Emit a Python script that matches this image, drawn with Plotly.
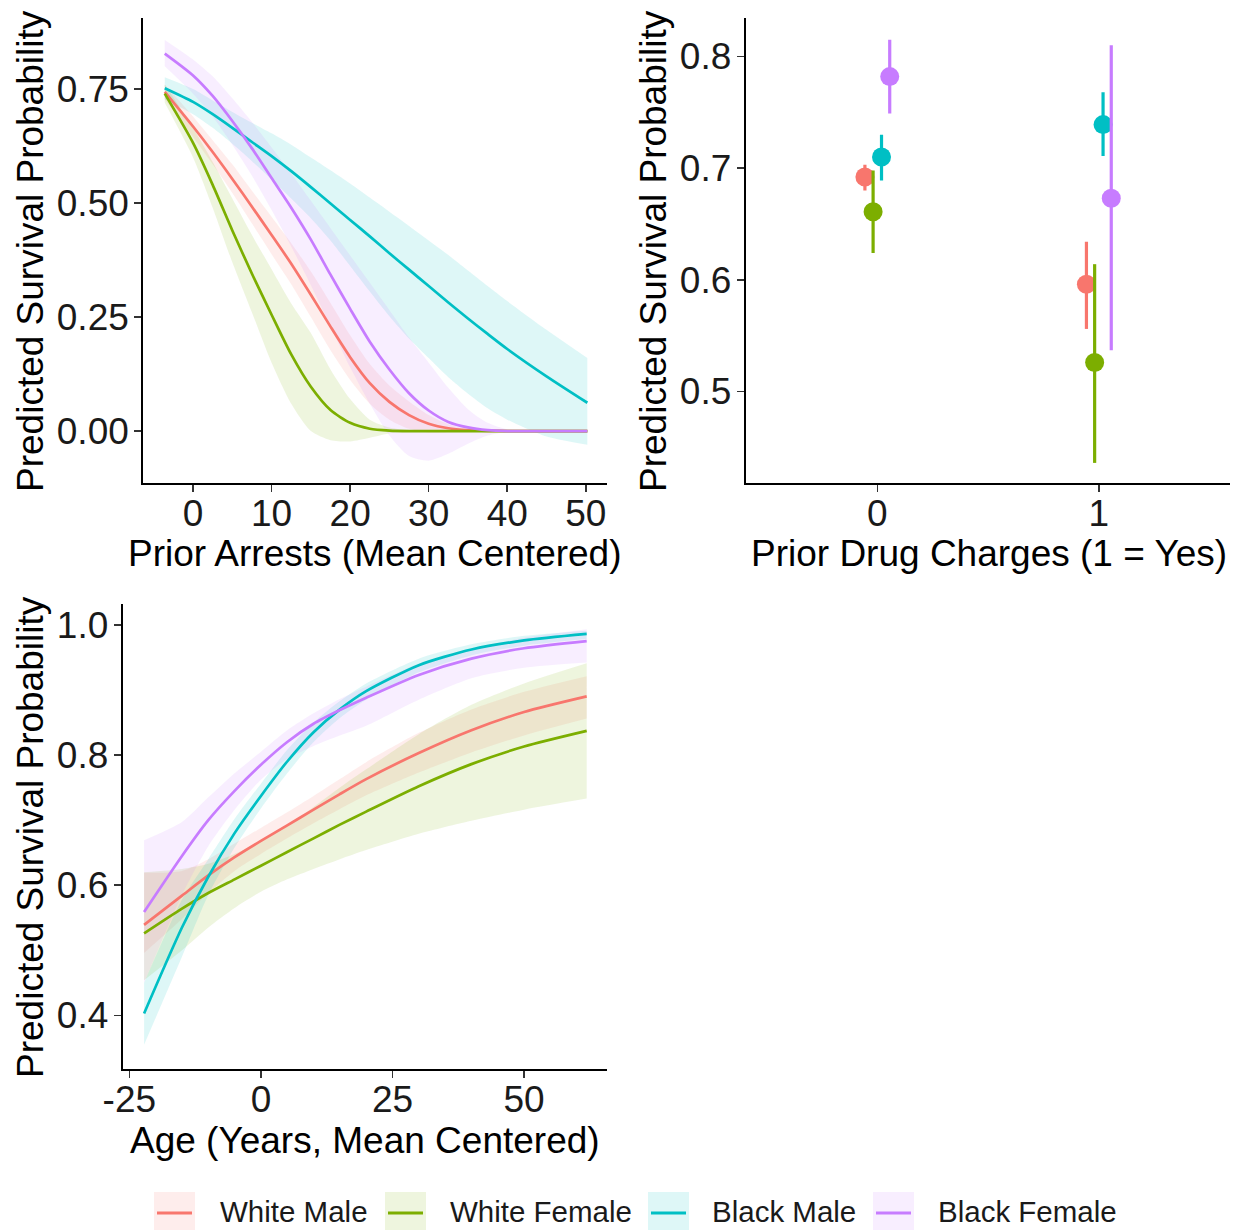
import plotly.graph_objects as go

W, H = 1239, 1230

# ---------------- data ----------------
groups = ["White Male", "White Female", "Black Male", "Black Female"]
colors = ["#F8766D", "#7CAE00", "#00BFC4", "#C77CFF"]

# Panel 1: Prior arrests (mean centered)
arrests_x = [-3.6, 0, 2.5, 5, 7.5, 10, 12.5, 15, 17.5, 20, 22.5, 25, 27.5, 30,
             32.5, 35, 37.5, 40, 45, 50.2]
arrests_fit = {
    "White Male":   [0.744, 0.668, 0.612, 0.553, 0.492, 0.430, 0.367, 0.299, 0.229, 0.162,
                     0.105, 0.064, 0.035, 0.016, 0.006, 0.002, 0.0005, 0.0, 0.0, 0.0],
    "White Female": [0.740, 0.632, 0.540, 0.440, 0.345, 0.255, 0.168, 0.097, 0.046, 0.018,
                     0.005, 0.001, 0.0, 0.0, 0.0, 0.0, 0.0, 0.0, 0.0, 0.0],
    "Black Male":   [0.752, 0.722, 0.695, 0.665, 0.634, 0.603, 0.570, 0.535, 0.499, 0.463,
                     0.427, 0.390, 0.354, 0.318, 0.282, 0.247, 0.213, 0.180, 0.120, 0.062],
    "Black Female": [0.828, 0.780, 0.735, 0.680, 0.620, 0.555, 0.490, 0.420, 0.343, 0.268,
                     0.196, 0.135, 0.083, 0.045, 0.020, 0.008, 0.002, 0.0, 0.0, 0.0],
}
arrests_lo = {
    "White Male":   [0.728, 0.645, 0.585, 0.522, 0.455, 0.388, 0.322, 0.250, 0.177, 0.112,
                     0.060, 0.025, 0.005, -0.003, -0.002, 0.0, 0.0, 0.0, 0.0, 0.0],
    "White Female": [0.720, 0.600, 0.490, 0.370, 0.260, 0.150, 0.060, 0.000, -0.020, -0.023,
                     -0.015, -0.005, 0.0, 0.0, 0.0, 0.0, 0.0, 0.0, 0.0, 0.0],
    "Black Male":   [0.728, 0.695, 0.665, 0.630, 0.592, 0.552, 0.510, 0.467, 0.418, 0.362,
                     0.306, 0.252, 0.203, 0.160, 0.118, 0.082, 0.050, 0.025, -0.012, -0.030],
    "Black Female": [0.800, 0.740, 0.690, 0.628, 0.560, 0.485, 0.405, 0.320, 0.230, 0.140,
                     0.060, -0.010, -0.055, -0.065, -0.050, -0.028, -0.010, -0.002, 0.0, 0.0],
}
arrests_hi = {
    "White Male":   [0.760, 0.690, 0.638, 0.585, 0.527, 0.470, 0.412, 0.350, 0.281, 0.210,
                     0.147, 0.100, 0.065, 0.035, 0.015, 0.004, 0.001, 0.0, 0.0, 0.0],
    "White Female": [0.760, 0.665, 0.590, 0.510, 0.430, 0.355, 0.280, 0.215, 0.135, 0.070,
                     0.025, 0.008, 0.002, 0.0, 0.0, 0.0, 0.0, 0.0, 0.0, 0.0],
    "Black Male":   [0.776, 0.750, 0.725, 0.700, 0.676, 0.653, 0.628, 0.600, 0.572, 0.543,
                     0.512, 0.481, 0.450, 0.418, 0.386, 0.352, 0.318, 0.285, 0.222, 0.160],
    "Black Female": [0.858, 0.815, 0.778, 0.730, 0.678, 0.622, 0.565, 0.505, 0.445, 0.385,
                     0.325, 0.265, 0.205, 0.150, 0.095, 0.048, 0.018, 0.004, 0.0, 0.0],
}

# Panel 2: Prior drug charges
drug_cats = [0, 1]
drug_fit = {
    "White Male":   [0.692, 0.596],
    "White Female": [0.661, 0.526],
    "Black Male":   [0.710, 0.739],
    "Black Female": [0.782, 0.673],
}
drug_lo = {
    "White Male":   [0.680, 0.556],
    "White Female": [0.624, 0.436],
    "Black Male":   [0.689, 0.711],
    "Black Female": [0.749, 0.537],
}
drug_hi = {
    "White Male":   [0.703, 0.634],
    "White Female": [0.698, 0.614],
    "Black Male":   [0.730, 0.768],
    "Black Female": [0.815, 0.810],
}

# Panel 3: Age (years, mean centered)
age_x = [-22.2, -15, -10, -5, 0, 5, 10, 15, 20, 30, 40, 50, 61.9]
age_fit = {
    "White Male":   [0.539, 0.584, 0.615, 0.643, 0.668, 0.692, 0.716, 0.740, 0.763, 0.803, 0.838, 0.866, 0.890],
    "White Female": [0.526, 0.564, 0.588, 0.609, 0.630, 0.651, 0.672, 0.693, 0.713, 0.752, 0.786, 0.813, 0.837],
    "Black Male":   [0.403, 0.535, 0.613, 0.680, 0.737, 0.790, 0.835, 0.870, 0.898, 0.938, 0.962, 0.976, 0.986],
    "Black Female": [0.559, 0.645, 0.700, 0.745, 0.785, 0.820, 0.848, 0.869, 0.888, 0.923, 0.948, 0.964, 0.975],
}
age_lo = {
    "White Male":   [0.496, 0.548, 0.588, 0.622, 0.648, 0.672, 0.695, 0.717, 0.738, 0.773, 0.804, 0.830, 0.856],
    "White Female": [0.454, 0.500, 0.535, 0.565, 0.590, 0.609, 0.625, 0.640, 0.654, 0.679, 0.699, 0.716, 0.733],
    "Black Male":   [0.355, 0.490, 0.585, 0.658, 0.718, 0.772, 0.820, 0.857, 0.885, 0.927, 0.953, 0.968, 0.978],
    "Black Female": [0.450, 0.585, 0.660, 0.716, 0.762, 0.794, 0.814, 0.830, 0.845, 0.885, 0.918, 0.934, 0.942],
}
age_hi = {
    "White Male":   [0.619, 0.622, 0.640, 0.664, 0.688, 0.712, 0.737, 0.763, 0.789, 0.834, 0.870, 0.897, 0.921],
    "White Female": [0.620, 0.625, 0.633, 0.648, 0.668, 0.692, 0.720, 0.750, 0.778, 0.832, 0.877, 0.910, 0.941],
    "Black Male":   [0.450, 0.578, 0.640, 0.702, 0.756, 0.808, 0.850, 0.883, 0.910, 0.948, 0.970, 0.983, 0.991],
    "Black Female": [0.669, 0.697, 0.735, 0.772, 0.805, 0.838, 0.864, 0.886, 0.905, 0.940, 0.963, 0.980, 0.993],
}

# ---------------- style helpers ----------------
FONT = "Liberation Sans, Arial, Helvetica, sans-serif"
TXT = "#1a1a1a"
FS = 37
RIB_ALPHA = 0.13
DODGE = [-0.056, -0.019, 0.019, 0.056]


def rgba(hex_color, a):
    h = hex_color.lstrip("#")
    r, g, b = int(h[0:2], 16), int(h[2:4], 16), int(h[4:6], 16)
    return f"rgba({r},{g},{b},{a})"


def px(x):
    """page pixel x -> paper fraction"""
    return x / W


def py(y):
    """page pixel y -> paper fraction"""
    return 1 - y / H


fig = go.Figure()
SPL = dict(shape="spline", smoothing=0.7)


def add_ribbons_and_lines(xs, fit, lo, hi, xa, ya):
    for g, c in zip(groups, colors):
        fig.add_trace(go.Scatter(x=xs, y=lo[g], mode="lines", xaxis=xa, yaxis=ya,
                                 line=dict(width=0, **SPL),
                                 showlegend=False, hoverinfo="skip"))
        fig.add_trace(go.Scatter(x=xs, y=hi[g], mode="lines", xaxis=xa, yaxis=ya,
                                 line=dict(width=0, **SPL),
                                 fill="tonexty", fillcolor=rgba(c, RIB_ALPHA),
                                 showlegend=False, hoverinfo="skip"))
    for g, c in zip(groups, colors):
        fig.add_trace(go.Scatter(x=xs, y=fit[g], mode="lines", xaxis=xa, yaxis=ya,
                                 line=dict(color=c, width=2.7, **SPL),
                                 name=g, showlegend=False))


add_ribbons_and_lines(arrests_x, arrests_fit, arrests_lo, arrests_hi, "x", "y")
add_ribbons_and_lines(age_x, age_fit, age_lo, age_hi, "x3", "y3")

for i, (g, c) in enumerate(zip(groups, colors)):
    xs = [k + DODGE[i] for k in drug_cats]
    ys = drug_fit[g]
    plus = [h - v for h, v in zip(drug_hi[g], ys)]
    minus = [v - l for v, l in zip(ys, drug_lo[g])]
    fig.add_trace(go.Scatter(x=xs, y=ys, mode="markers", xaxis="x2", yaxis="y2",
                             marker=dict(color=c, size=19),
                             error_y=dict(type="data", array=plus, arrayminus=minus,
                                          color=c, thickness=3.2, width=0, visible=True),
                             name=g, showlegend=False))

axis_common = dict(showline=True, linecolor="black", linewidth=1.8, ticks="outside",
                   ticklen=7, tickwidth=1.6, tickcolor="#333333", showgrid=False,
                   zeroline=False, tickfont=dict(family=FONT, size=FS, color=TXT),
                   mirror=False, automargin=False)
xax = dict(axis_common, ticklabelstandoff=-10)
yax = dict(axis_common, ticklabelstandoff=-2)

fig.update_layout(
    width=W, height=H, margin=dict(l=0, r=0, t=0, b=0, pad=0), autosize=False,
    paper_bgcolor="white", plot_bgcolor="white",
    font=dict(family=FONT, color=TXT),
    showlegend=False,
    xaxis=dict(domain=[px(143), px(607)], range=[-6.37, 52.7], anchor="y",
               tickvals=[0, 10, 20, 30, 40, 50], **xax),
    yaxis=dict(domain=[py(483), py(18)], range=[-0.114, 0.906], anchor="x",
               tickvals=[0, 0.25, 0.5, 0.75], ticktext=["0.00", "0.25", "0.50", "0.75"],
               **yax),
    xaxis2=dict(domain=[px(745.5), px(1230)], range=[-0.595, 1.592], anchor="y2",
                tickvals=[0, 1], ticktext=["0", "1"], **xax),
    yaxis2=dict(domain=[py(483), py(18)], range=[0.418, 0.8345], anchor="x2",
                tickvals=[0.5, 0.6, 0.7, 0.8], ticktext=["0.5", "0.6", "0.7", "0.8"],
                **yax),
    xaxis3=dict(domain=[px(122.5), px(606.7)], range=[-26.3, 65.7], anchor="y3",
                tickvals=[-25, 0, 25, 50], ticktext=["-25", "0", "25", "50"], **xax),
    yaxis3=dict(domain=[py(1069), py(603.7)], range=[0.3177, 1.0324], anchor="x3",
                tickvals=[0.4, 0.6, 0.8, 1.0], ticktext=["0.4", "0.6", "0.8", "1.0"],
                **yax),
)

annotations = []
title_font = dict(family=FONT, size=FS, color="black")
ylab = "Predicted Survival Probability"
for (x, y, text, ang) in [
    (375, 553, "Prior Arrests (Mean Centered)", 0),
    (989, 553, "Prior Drug Charges (1 = Yes)", 0),
    (365, 1140, "Age (Years, Mean Centered)", 0),
    (30, 251, ylab, -90),
    (653, 251, ylab, -90),
    (30, 837, ylab, -90),
]:
    annotations.append(dict(x=px(x), y=py(y), xref="paper", yref="paper", text=text,
                            showarrow=False, textangle=ang, xanchor="center",
                            yanchor="middle", font=title_font))

# manual legend (ggplot-style keys)
shapes = []
key_left = [154, 385, 648, 873]
text_left = [218, 448, 710, 936]
LEG_Y = 1211
for g, c, kx, tx in zip(groups, colors, key_left, text_left):
    shapes.append(dict(type="rect", xref="paper", yref="paper",
                       x0=px(kx), x1=px(kx + 41), y0=py(1230), y1=py(1192),
                       fillcolor=rgba(c, RIB_ALPHA), line=dict(width=0), layer="below"))
    shapes.append(dict(type="line", xref="paper", yref="paper",
                       x0=px(kx + 3), x1=px(kx + 38), y0=py(1213), y1=py(1213),
                       line=dict(color=c, width=3)))
    annotations.append(dict(x=px(tx), y=py(LEG_Y), xref="paper", yref="paper", text=g,
                            showarrow=False, xanchor="left", yanchor="middle",
                            font=dict(family=FONT, size=29.5, color=TXT)))

fig.update_layout(annotations=annotations, shapes=shapes)

# remove the default 8px page margin so the figure fills the window exactly
fig.write_html("out.html",
               config={"displayModeBar": False, "staticPlot": True},
               post_script="document.body.style.margin='0';document.body.style.overflow='hidden';")
